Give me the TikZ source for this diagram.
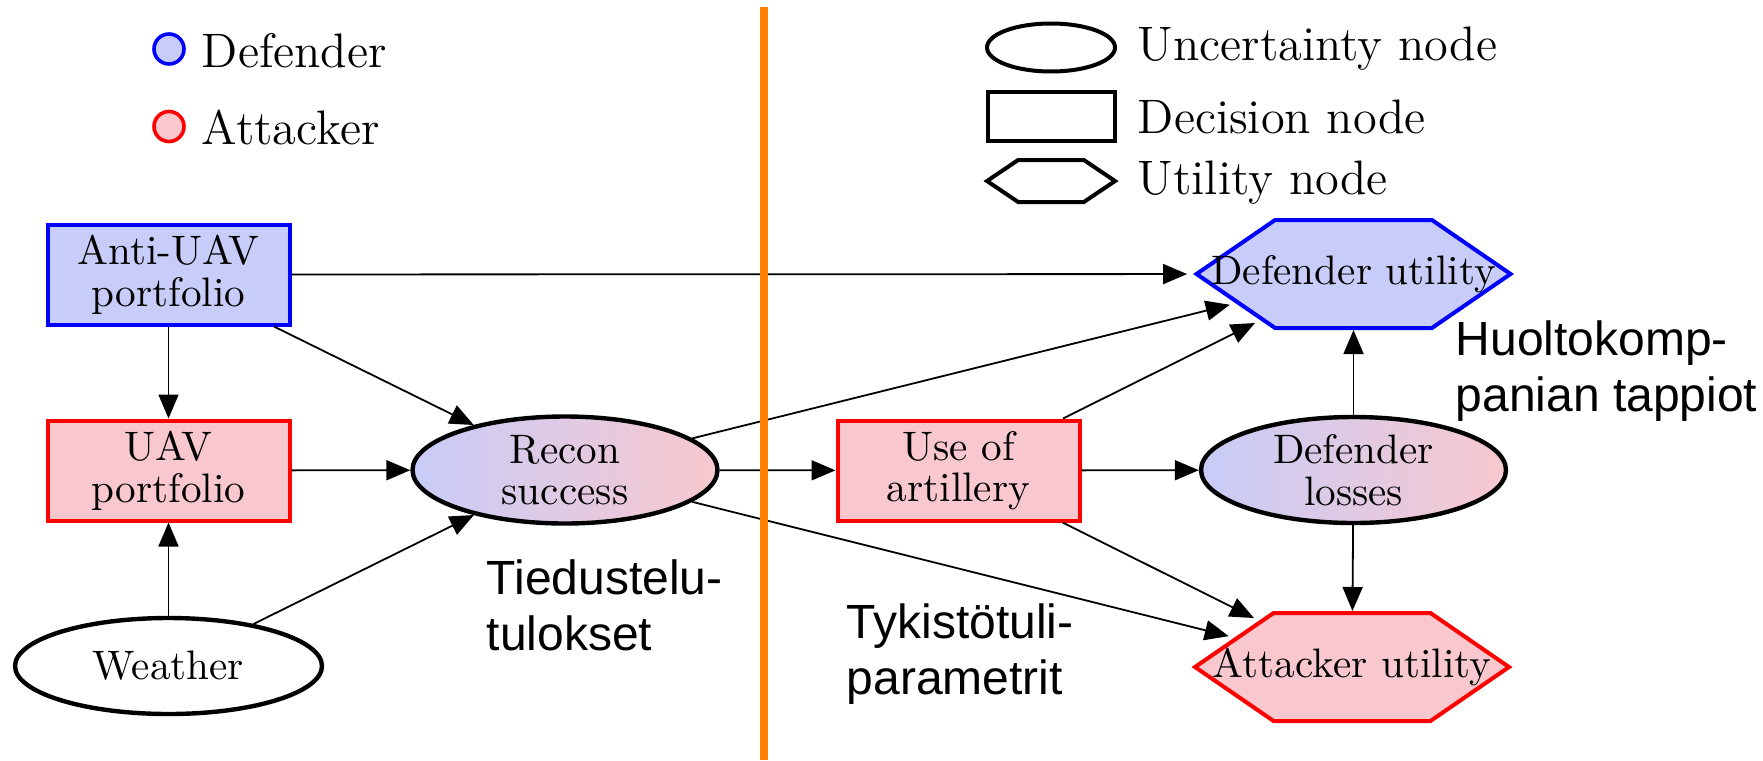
\documentclass[tikz,border=0pt]{standalone}
\usepackage{fontspec}
\newfontfamily\annfont{Liberation Sans}
\usetikzlibrary{shapes.geometric,shapes.symbols,arrows.meta}
\definecolor{bfill}{RGB}{200,204,248}
\definecolor{rfill}{RGB}{248,200,206}
\newcommand\nodefont{\fontsize{10.3}{10.4}\selectfont}
\newcommand\legfont{\fontsize{12.1}{14}\selectfont}
\newcommand\annfnt{\annfont\fontsize{12}{14}\selectfont}
\begin{document}
\begin{tikzpicture}[x=0.25pt,y=-0.25pt,
  dec/.style={rectangle, line width=1pt, minimum width=60.5pt, minimum height=25pt, inner sep=0pt, align=center, font=\nodefont},
  unc/.style={ellipse, line width=1.1pt, inner sep=0pt, align=center, font=\nodefont},
  util/.style={signal, signal to=east and west, signal pointer angle=69, line width=1pt, minimum width=78.5pt, minimum height=27pt, inner sep=0pt, font=\nodefont},
  defn/.style={draw=blue, fill=bfill},
  attn/.style={draw=red, fill=rfill},
  mixn/.style={draw=black, left color=bfill, right color=rfill},
  conn/.style={-{Triangle[length=6pt,width=5pt]}, line width=0.45pt},
  tohex/.style={conn, shorten >=1.5pt},
  legtext/.style={anchor=base west, inner sep=0pt, font=\legfont},
  anntext/.style={anchor=base west, inner sep=0pt, font=\annfnt},
]
\useasboundingbox (0,0) rectangle (1763,760);

% legend (left)
\node[circle, defn, line width=0.9pt, minimum size=7.5pt, inner sep=0pt] (cD) at (169,49) {};
\node[legtext] (tD) at (201,67) {Defender};
\node[circle, attn, line width=0.9pt, minimum size=7.5pt, inner sep=0pt] (cA) at (169,126.5) {};
\node[legtext] (tA) at (201,144) {Attacker};

% legend (right)
\node[ellipse, draw, line width=1pt, minimum width=32pt, minimum height=12pt, inner sep=0pt] (lU) at (1051,47.5) {};
\node[legtext] (tU) at (1137,60) {Uncertainty node};
\node[rectangle, draw, line width=1pt, minimum width=31.75pt, minimum height=12.25pt, inner sep=0pt] (lDn) at (1051.5,116.5) {};
\node[legtext] (tDn) at (1137,133) {Decision node};
\node[signal, signal to=east and west, signal pointer angle=68, draw, line width=1pt, minimum width=32pt, minimum height=10.5pt, inner sep=0pt] (lV) at (1051,181) {};
\node[legtext] (tV) at (1137,194) {Utility node};

% nodes
\node[dec, defn] (anti) at (168.5,274.5) {Anti-UAV\\portfolio};
\node[dec, attn] (uav) at (168.5,470.5) {UAV\\portfolio};
\node[unc, mixn, minimum width=76.25pt, minimum height=26.75pt] (recon) at (565,470) {Recon\\success};
\node[unc, draw=black, minimum width=76.75pt, minimum height=24pt] (weather) at (168.5,666) {Weather};
\node[dec, attn] (uoa) at (958.5,470.5) {Use of\\artillery};
\node[unc, mixn, minimum width=76.25pt, minimum height=26.5pt] (dl) at (1353.5,470) {Defender\\losses};
\node[util, defn] (du) at (1353.5,274) {\makebox[0pt]{Defender utility}};
\node[util, attn] (au) at (1352,667) {\makebox[0pt]{Attacker utility}};

% connectors
\draw[conn] (anti) -- (uav);
\draw[conn] (anti) -- (recon);
\draw[tohex] (anti) -- (du);
\draw[conn] (weather) -- (uav);
\draw[conn] (weather) -- (recon);
\draw[conn] (uav) -- (recon);
\draw[conn] (recon) -- (uoa);
\draw[tohex] (recon) -- (du);
\draw[tohex] (recon) -- (au);
\draw[tohex] (uoa) -- (du);
\draw[tohex] (uoa) -- (au);
\draw[conn] (uoa) -- (dl);
\draw[conn] (dl) -- (du);
\draw[conn] (dl) -- (au);

% separator
\coordinate (sepTop) at (763.5,7);
\coordinate (sepBot) at (763.5,760);
\draw[orange, line width=2pt] (sepTop) -- (sepBot);

% annotations
\node[anntext] (ann1) at (486,594) {\begin{tabular}[t]{@{}l@{}}Tiedustelu-\\tulokset\end{tabular}};
\node[anntext] (ann2) at (846,638) {\begin{tabular}[t]{@{}l@{}}Tykistötuli-\\parametrit\end{tabular}};
\node[anntext] (ann3) at (1455,355) {\begin{tabular}[t]{@{}l@{}}Huoltokomp-\\panian tappiot\end{tabular}};
\end{tikzpicture}
\end{document}
